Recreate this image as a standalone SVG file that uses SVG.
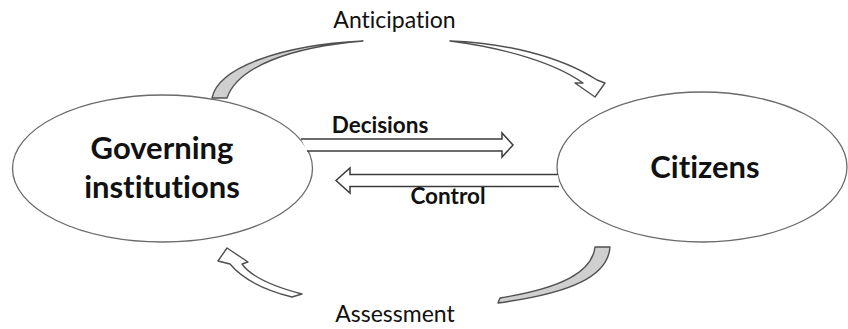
<svg xmlns="http://www.w3.org/2000/svg" width="848" height="329" viewBox="0 0 848 329">
<style>
.node{fill:#fff;stroke:#6a6a6a;stroke-width:1.3}
text{font-variant-ligatures:none;font-feature-settings:"liga" 0,"dlig" 0}
.nlabel{font-family:Lato,"Liberation Sans",sans-serif;font-weight:bold;font-size:31px;fill:#111;text-anchor:middle}
.elabel{font-family:Lato,"Liberation Sans",sans-serif;font-size:23px;fill:#111;text-anchor:middle}
.b{font-weight:bold;font-size:22.5px}
.arrow{fill:#fff;stroke:#3c3c3c;stroke-width:1.5;stroke-linejoin:miter}
.curve{fill:#fff;stroke:#505050;stroke-width:1.4;stroke-linejoin:round}
.shade{fill:#cfcfcf;stroke:#505050;stroke-width:1.4;stroke-linejoin:round}
</style>
<rect width="848" height="329" fill="#fff"/>
<g id="gov">
<ellipse class="node" cx="162.5" cy="168.5" rx="150" ry="73.5"/>
<text class="nlabel" x="162" y="159">Governing</text>
<text class="nlabel" x="162" y="198">institutions</text>
</g>
<g id="cit">
<ellipse class="node" cx="702" cy="167" rx="145" ry="75"/>
<text class="nlabel" x="705" y="178">Citizens</text>
</g>
<g id="connectors">
<g id="decisions">
<path class="arrow" d="M301,139 L502,139 L502,133 L513,145 L502,157 L502,151 L307,151"/>
<text class="elabel b" x="380" y="133">Decisions</text>
</g>
<g id="control">
<path class="arrow" d="M558,174.5 L350,174.5 L350,168 L336,180.5 L350,193 L350,186.5 L559,186.5"/>
<text class="elabel b" x="448" y="204">Control</text>
</g>
<g id="anticipation">
<path class="shade" d="M212,98 C218,68 280,45 363,41 C292,47 238,66 227,98 Z"/>
<path class="curve" d="M450,41 C505,43 560,56 597,80 L605,83 L595,97 L575,83 L583,83 C555,63 505,48 450,41 Z"/>
<text class="elabel" x="394.5" y="28">Anticipation</text>
</g>
<g id="assessment">
<path class="shade" d="M595,247 L610,247 C608,276 572,293 498,303 L500,298 C562,288 592,272 595,247 Z"/>
<path class="curve" d="M302,294 C275,287 252,278 242,264 L248,262 L227,248 L218,261 L230,264 C245,282 268,291 292,297 Z"/>
<text class="elabel" x="395" y="322">Assessment</text>
</g>
</g>
</svg>
